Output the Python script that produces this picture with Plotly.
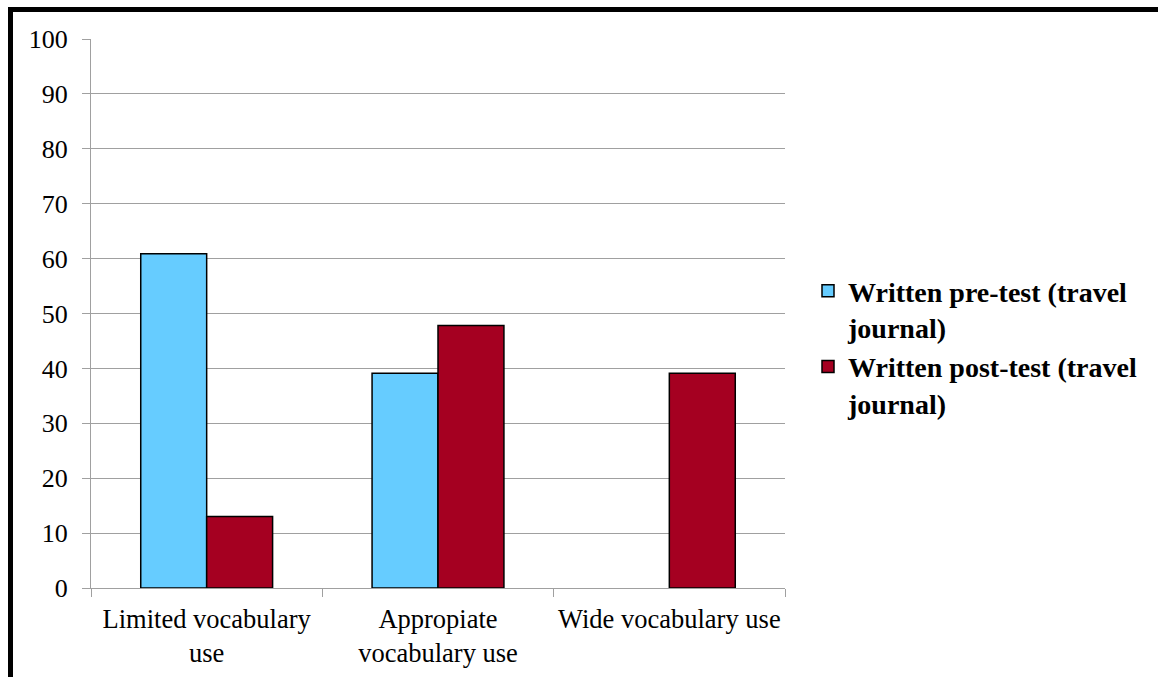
import plotly.graph_objects as go

# Vocabulary-use categories (x axis)
categories = ["Limited vocabulary<br>use", "Appropiate<br>vocabulary use", "Wide vocabulary use"]

# Percentage of students in each category
pre_test = [60.87, 39.13, 0]
post_test = [13.04, 47.83, 39.13]

series_names = ["Written pre-test (travel<br>journal)", "Written post-test (travel<br>journal)"]
y_ticks = [0, 10, 20, 30, 40, 50, 60, 70, 80, 90, 100]

BLUE = "#66CCFF"
RED = "#A50021"
GRID = "#A0A0A0"
SERIF = "Liberation Serif"


def outline_widths(values):
    # no outline on empty bars
    return [1.5 if v > 0 else 0 for v in values]


fig = go.Figure()
fig.add_trace(go.Bar(x=categories, y=pre_test, name=series_names[0],
                     marker=dict(color=BLUE, line=dict(color="black", width=outline_widths(pre_test)))))
fig.add_trace(go.Bar(x=categories, y=post_test, name=series_names[1],
                     marker=dict(color=RED, line=dict(color="black", width=outline_widths(post_test)))))

L, T, R, B = 91, 39, 373, 89
W, H = 1158, 677
pw, ph = W - L - R, H - T - B


def px_x(p):
    return (p - L) / pw


def px_y(p):
    return (H - B - p) / ph


fig.update_layout(
    width=W, height=H,
    margin=dict(l=L, r=R, t=T, b=B),
    paper_bgcolor="white", plot_bgcolor="white",
    barmode="group", bargap=0.43, bargroupgap=0,
    font=dict(family=SERIF, size=26, color="black"),
    showlegend=True,
    legend=dict(x=px_x(808), y=px_y(266), xanchor="left", yanchor="top",
                font=dict(family=SERIF, size=28, color="black", weight="bold"),
                valign="top", bgcolor="rgba(0,0,0,0)", itemclick=False),
    xaxis=dict(showline=True, linecolor=GRID, linewidth=1.3, automargin=False, tickangle=0,
               ticks="outside", tickson="boundaries", ticklen=8, tickcolor=GRID, tickwidth=1.3,
               showgrid=False, ticklabelstandoff=7,
               tickfont=dict(family=SERIF, size=26.5, color="black")),
    yaxis=dict(range=[0, 100], tickvals=y_ticks, showline=True, linecolor=GRID, linewidth=1.3,
               ticks="outside", ticklen=8, tickcolor=GRID, tickwidth=1.3, automargin=False,
               showgrid=True, gridcolor=GRID, gridwidth=1.3, zeroline=False,
               ticklabelstandoff=9, tickfont=dict(family=SERIF, size=26, color="black")),
    shapes=[
        dict(type="line", xref="paper", yref="paper", x0=px_x(10.5), x1=px_x(W + 5),
             y0=px_y(9.5), y1=px_y(9.5), line=dict(color="black", width=5)),
        dict(type="line", xref="paper", yref="paper", x0=px_x(10.5), x1=px_x(10.5),
             y0=px_y(7), y1=px_y(H + 5), line=dict(color="black", width=5)),
    ],
)

fig.write_html("out.html")
